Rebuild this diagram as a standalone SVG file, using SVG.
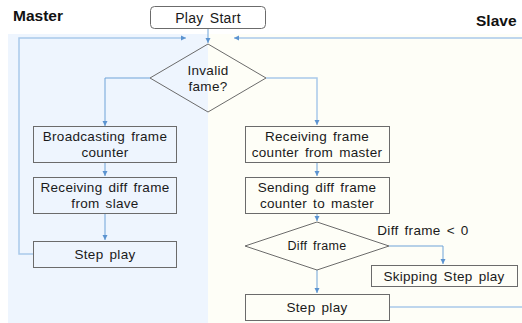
<svg xmlns="http://www.w3.org/2000/svg" width="522" height="323" viewBox="0 0 522 323">
<style>
.box{fill:none;stroke:#6b6b6b;stroke-width:1}
.t{font-family:"Liberation Sans","Arial",sans-serif;font-size:13.5px;fill:#1a1a1a;text-anchor:middle;letter-spacing:0.3px;word-spacing:2px}
.h{font-family:"Liberation Sans","Arial",sans-serif;font-size:15.5px;font-weight:bold;fill:#111}
.c{fill:none;stroke:#6fa3d8;stroke-width:1}
.cl{fill:none;stroke:#a9c9ea;stroke-width:1.5}
</style>
<defs>
<marker id="a" markerWidth="6" markerHeight="6" refX="5" refY="3" orient="auto" markerUnits="userSpaceOnUse">
<path d="M0,0.5 L5,3 L0,5.5 Z" fill="#5b93d0"/>
</marker>
</defs>
<rect width="522" height="323" fill="#ffffff"/>
<rect x="8" y="34" width="200" height="289" fill="#eef5fe"/>
<rect x="208" y="34" width="314" height="289" fill="#fefef7"/>
<text class="h" x="13" y="21">Master</text>
<text class="h" x="476" y="26">Slave</text>
<g id="connectors">
<path class="c" d="M208,28 V43" marker-end="url(#a)"/>
<path class="c" d="M150,78 H105 V126" marker-end="url(#a)"/>
<path class="c" d="M105,163 V176" marker-end="url(#a)"/>
<path class="c" d="M105,214 V240" marker-end="url(#a)"/>
<path class="cl" d="M33,254 H19 V38 H186" marker-end="url(#a)"/>
<path class="cl" d="M266,78 H317 V125" marker-end="url(#a)"/>
<path class="c" d="M317,163 V176" marker-end="url(#a)"/>
<path class="c" d="M317,213 V221" marker-end="url(#a)"/>
<path class="c" d="M317,270 V293" marker-end="url(#a)"/>
<path class="c" d="M389,246 H443 V264" marker-end="url(#a)"/>
<path class="cl" d="M389,307 H525 V38 H234" marker-end="url(#a)"/>
</g>
<g id="play-start">
<rect class="box" x="150.5" y="6.5" width="115" height="22" rx="4"/>
<text class="t" x="208" y="22.5" style="font-size:14px">Play Start</text>
</g>
<g id="invalid-frame">
<path class="box" d="M208,44 L266,78 L208,112 L150,78 Z"/>
<text class="t" x="208" y="75">Invalid</text>
<text class="t" x="208" y="91">fame?</text>
</g>
<g id="m-broadcast">
<rect class="box" x="33.5" y="126.5" width="143" height="36"/>
<text class="t" x="105" y="141">Broadcasting frame</text>
<text class="t" x="105" y="157">counter</text>
</g>
<g id="m-receive">
<rect class="box" x="33.5" y="177.5" width="143" height="36"/>
<text class="t" x="105" y="192">Receiving diff frame</text>
<text class="t" x="105" y="208">from slave</text>
</g>
<g id="m-step">
<rect class="box" x="33.5" y="241.5" width="143" height="26"/>
<text class="t" x="105" y="259">Step play</text>
</g>
<g id="s-receive">
<rect class="box" x="245.5" y="126.5" width="144" height="36"/>
<text class="t" x="317" y="141">Receiving frame</text>
<text class="t" x="317" y="157">counter from master</text>
</g>
<g id="s-send">
<rect class="box" x="245.5" y="177.5" width="144" height="36"/>
<text class="t" x="317" y="192">Sending diff frame</text>
<text class="t" x="317" y="208">counter to master</text>
</g>
<g id="s-diff">
<path class="box" d="M317,222 L389,246 L317,270 L245,246 Z"/>
<text class="t" x="317" y="250" style="font-size:12.5px">Diff frame</text>
</g>
<text class="t" x="423" y="235">Diff frame &lt; 0</text>
<g id="s-skip">
<rect class="box" x="371.5" y="265.5" width="146" height="21"/>
<text class="t" x="444" y="281">Skipping Step play</text>
</g>
<g id="s-step">
<rect class="box" x="245.5" y="294.5" width="144" height="26"/>
<text class="t" x="317" y="312">Step play</text>
</g>
</svg>
